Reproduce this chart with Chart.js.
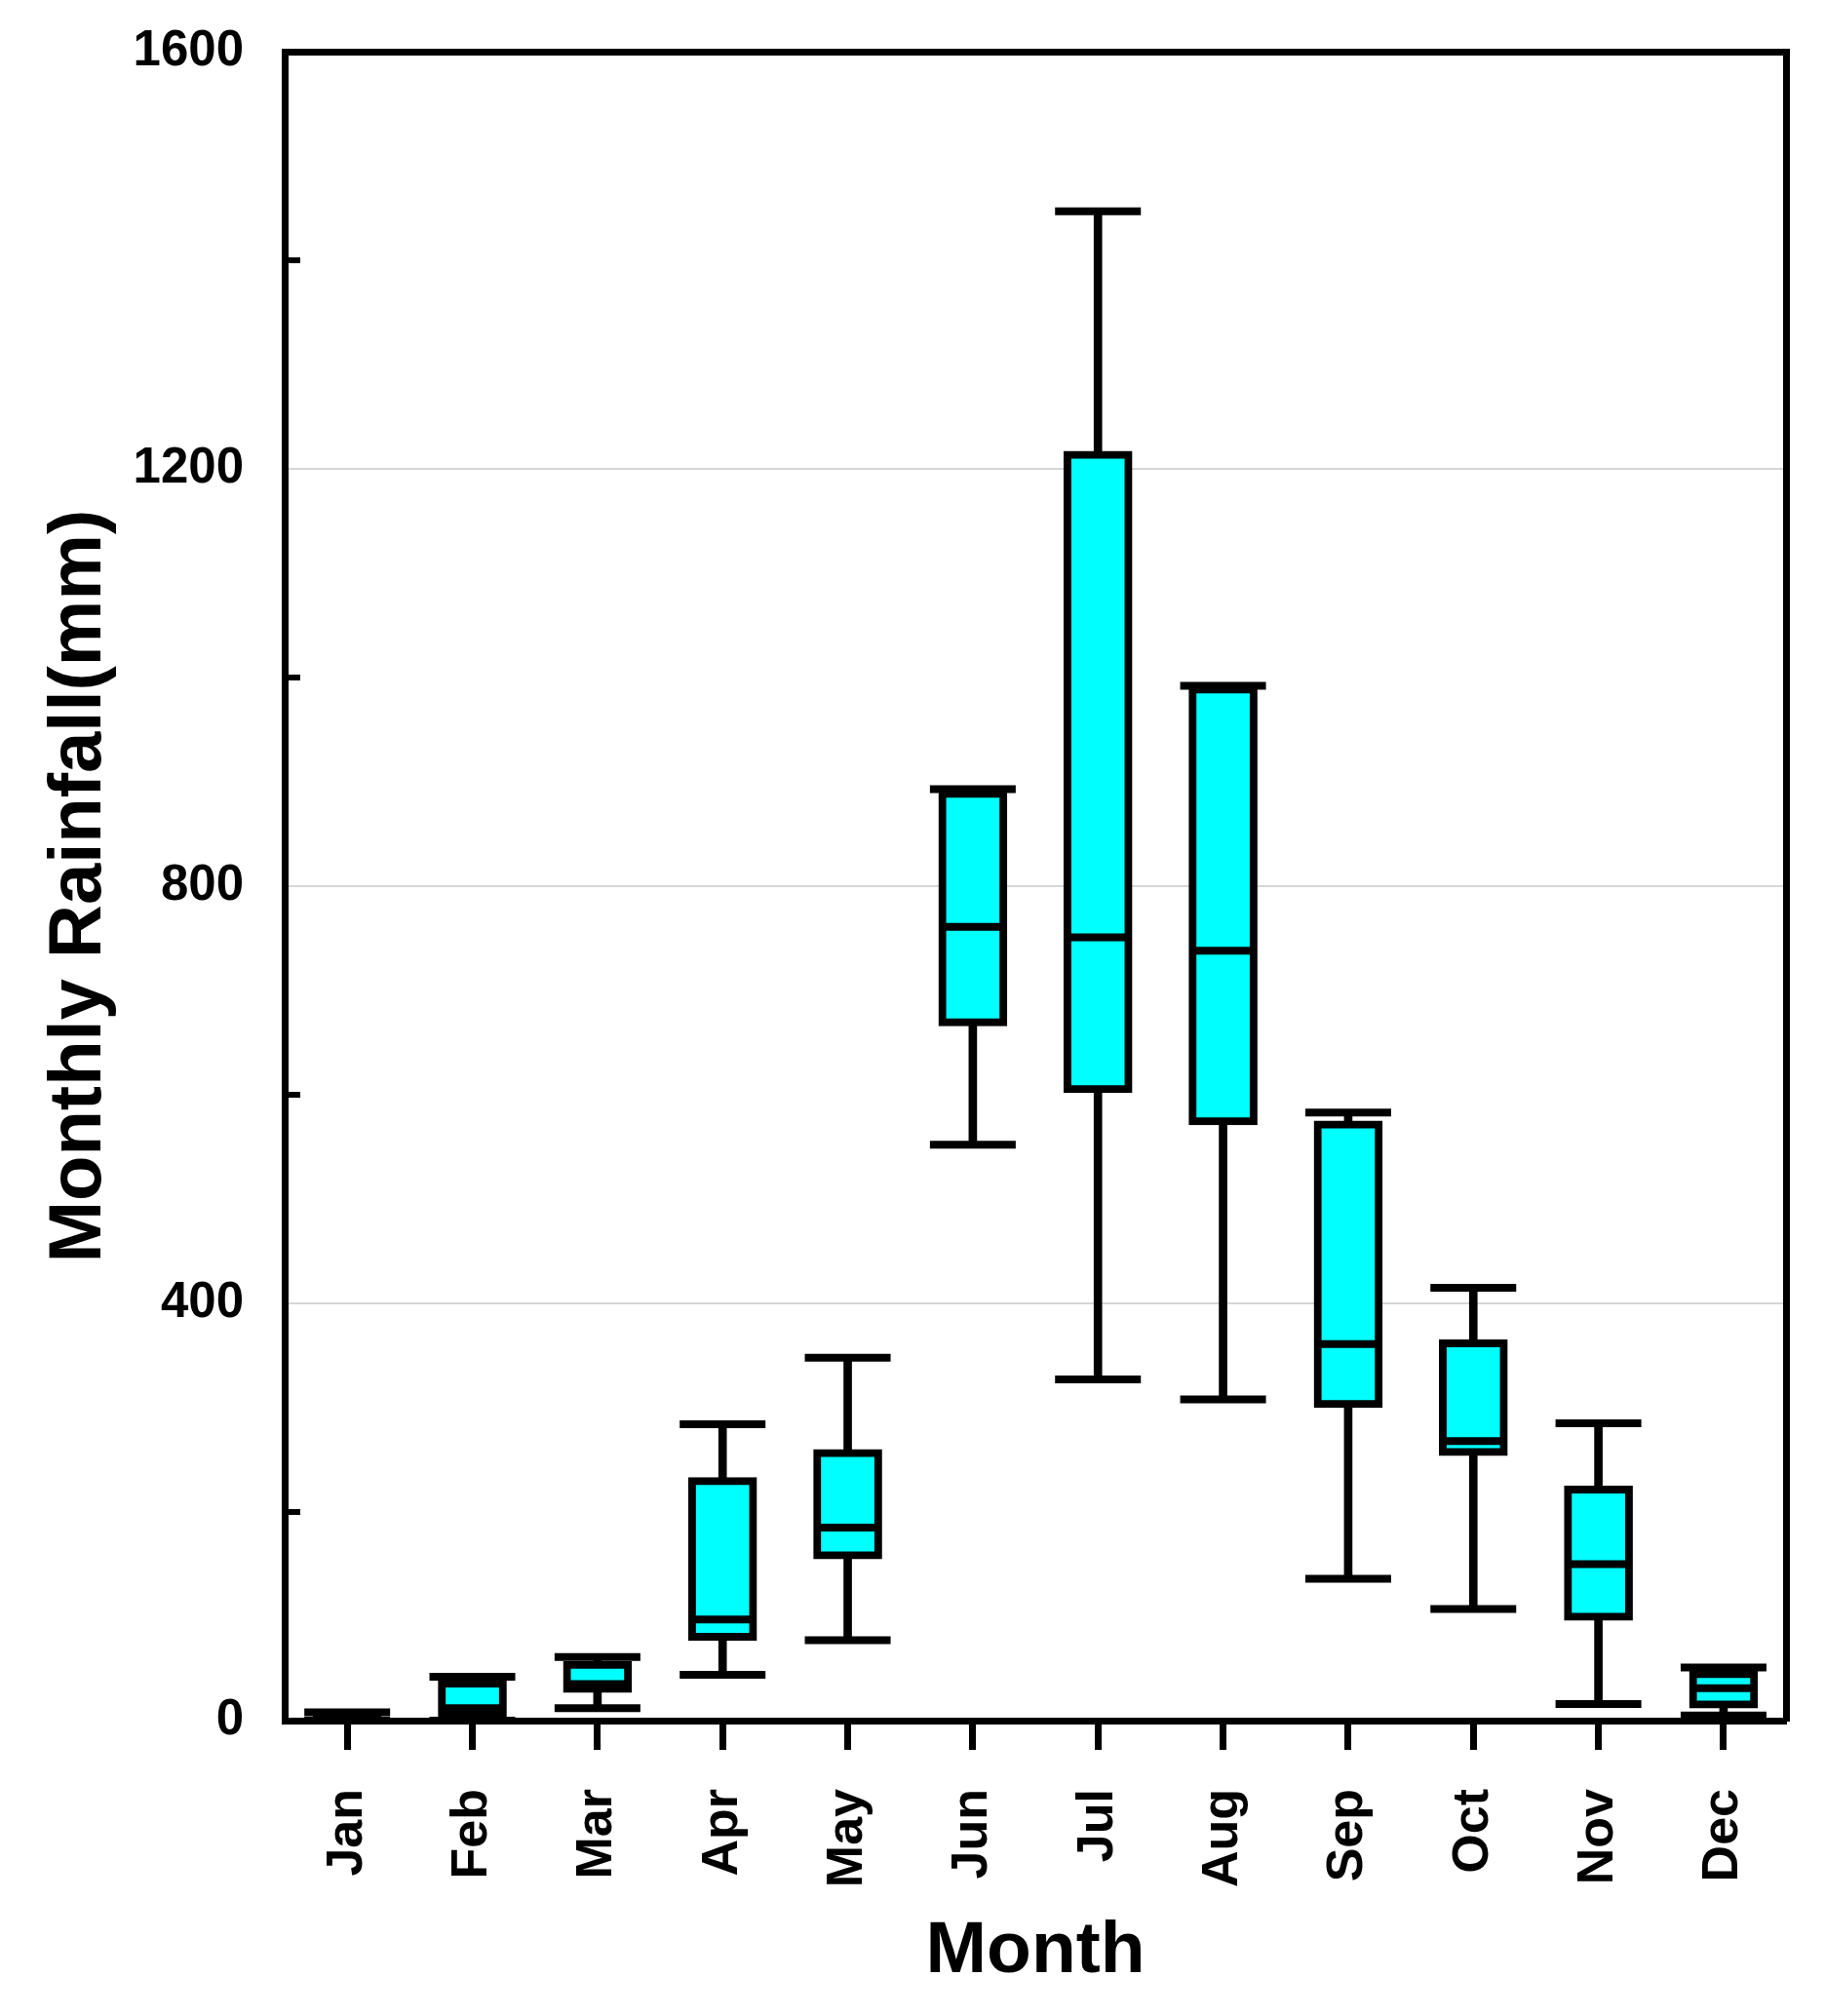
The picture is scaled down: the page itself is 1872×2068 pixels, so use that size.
<!DOCTYPE html>
<html>
<head>
<meta charset="utf-8">
<script src="https://cdn.jsdelivr.net/npm/chart.js@4.4.1/dist/chart.umd.min.js"></script>
<style>
  html, body { margin: 0; padding: 0; background: #ffffff; }
  canvas { display: block; }
</style>
</head>
<body>
<canvas id="c" width="1872" height="2068"></canvas>
<script>
// ---- data ----
const months = ['Jan','Feb','Mar','Apr','May','Jun','Jul','Aug','Sep','Oct','Nov','Dec'];
const minVals    = [0,  0, 12,  44,  77, 552,  327, 308, 136, 107,  16,  5];
const q1Vals     = [1,  3, 27,  77, 155, 666,  602, 571, 300, 254,  96, 12];
const medianVals = [3, 12, 35,  97, 185, 761,  751, 738, 361, 268, 150, 31];
const q3Vals     = [6, 39, 57, 233, 260, 892, 1217, 992, 575, 365, 225, 48];
const maxVals    = [8, 42, 61, 284, 348, 893, 1447, 992, 583, 415, 285, 51];
const yLabelTicks = [0, 400, 800, 1200, 1600];
const gridTicks = [400, 800, 1200];
const minorTicks = [200, 600, 1000, 1400];

const FONT = "'Liberation Sans', Arial, Helvetica, sans-serif";
const CYAN = '#00ffff';
const BLACK = '#000000';
const LW = 8;

const lowerWhisker = months.map((m, i) => [minVals[i], q1Vals[i]]);
const upperWhisker = months.map((m, i) => [q3Vals[i], maxVals[i]]);
const boxes = months.map((m, i) => [q1Vals[i], q3Vals[i]]);

new Chart(document.getElementById('c'), {
  type: 'bar',
  data: {
    labels: months,
    datasets: [
      { label: 'lower whisker', data: lowerWhisker, backgroundColor: BLACK, borderWidth: 0,
        barThickness: LW, grouped: false, order: 5, xAxisID: 'x', yAxisID: 'y' },
      { label: 'upper whisker', data: upperWhisker, backgroundColor: BLACK, borderWidth: 0,
        barThickness: LW, grouped: false, order: 5, xAxisID: 'x', yAxisID: 'y' },
      { label: 'box', data: boxes, backgroundColor: CYAN, borderColor: BLACK, borderWidth: LW,
        borderSkipped: false, barThickness: 70, grouped: false, order: 4, xAxisID: 'x', yAxisID: 'y' },
      { type: 'line', label: 'max', data: maxVals, showLine: false, pointStyle: 'line',
        pointRadius: 44, pointBorderWidth: LW, pointBorderColor: BLACK, pointBackgroundColor: BLACK,
        order: 2, xAxisID: 'x', yAxisID: 'y' },
      { type: 'line', label: 'min', data: minVals, showLine: false, pointStyle: 'line',
        pointRadius: 44, pointBorderWidth: LW, pointBorderColor: BLACK, pointBackgroundColor: BLACK,
        order: 2, xAxisID: 'x', yAxisID: 'y' },
      { type: 'line', label: 'median', data: medianVals, showLine: false, pointStyle: 'line',
        pointRadius: 33, pointBorderWidth: LW, pointBorderColor: BLACK, pointBackgroundColor: BLACK,
        order: 1, xAxisID: 'x', yAxisID: 'y' }
    ]
  },
  options: {
    responsive: false,
    devicePixelRatio: 1,
    animation: false,
    events: [],
    layout: { autoPadding: false, padding: { left: 0, top: 53, right: 38, bottom: 0 } },
    plugins: { legend: { display: false }, tooltip: { enabled: false } },
    scales: {
      x: {
        type: 'category',
        position: 'bottom',
        offset: true,
        grid: { offset: false, drawOnChartArea: false, drawTicks: true, tickLength: 30,
                tickWidth: 7, tickColor: BLACK },
        border: { display: true, color: BLACK, width: 7 },
        ticks: { color: BLACK, minRotation: 90, maxRotation: 90, autoSkip: false, padding: 40,
                 font: { family: FONT, size: 52, weight: 'bold' } },
        title: { display: true, text: 'Month', color: BLACK,
                 font: { family: FONT, size: 75, weight: 'bold', lineHeight: 1.2 },
                 padding: { top: 0, bottom: 21 } },
        afterFit: s => { s.height = 303; }
      },
      xTop: {
        type: 'category',
        position: 'top',
        grid: { display: false, drawTicks: false },
        ticks: { display: false },
        border: { display: true, color: BLACK, width: 7 },
        afterFit: s => { s.height = 0; }
      },
      y: {
        type: 'linear',
        position: 'left',
        min: 0,
        max: 1600,
        grid: {
          drawOnChartArea: true,
          drawTicks: true,
          tickLength: -16,
          tickWidth: 6,
          lineWidth: 2,
          color: c => (c.tick && gridTicks.includes(c.tick.value)) ? '#d6d6d6' : 'rgba(0,0,0,0)',
          tickColor: c => (c.tick && minorTicks.includes(c.tick.value)) ? BLACK : 'rgba(0,0,0,0)'
        },
        border: { display: true, color: BLACK, width: 7 },
        ticks: {
          stepSize: 200,
          autoSkip: false,
          color: BLACK,
          padding: 58,
          font: { family: FONT, size: 51, weight: 'bold' },
          callback: v => yLabelTicks.includes(v) ? String(v) : ''
        },
        title: { display: true, text: 'Monthly Rainfall(mm)', color: BLACK,
                 font: { family: FONT, size: 76, weight: 'bold', lineHeight: 1.2 },
                 padding: { top: 36, bottom: 0 } },
        afterFit: s => { s.width = 292; s.paddingTop = 30; s.paddingBottom = 30; }
      },
      yRight: {
        type: 'linear',
        position: 'right',
        min: 0,
        max: 1600,
        grid: { display: false, drawTicks: false },
        ticks: { display: false },
        border: { display: true, color: BLACK, width: 7 },
        afterFit: s => { s.width = 0; }
      }
    }
  }
});
</script>
</body>
</html>
